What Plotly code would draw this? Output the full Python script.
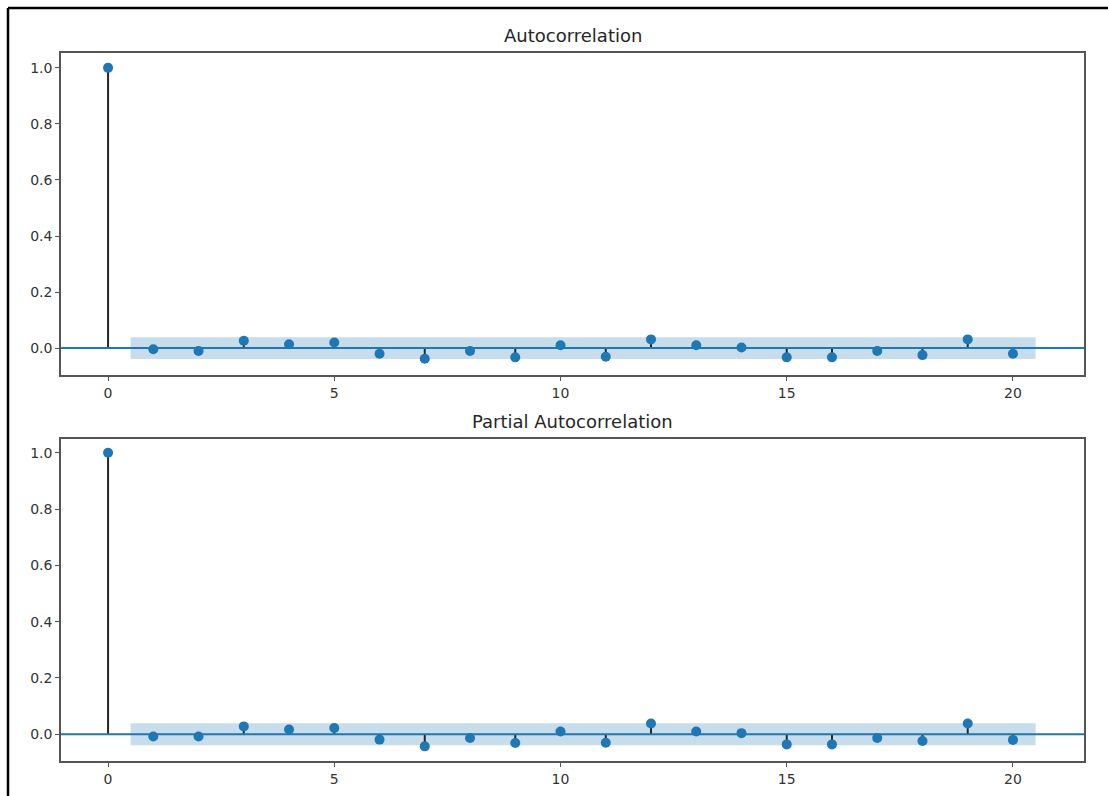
import plotly.graph_objects as go

# Lags and correlation estimates
lags = list(range(0, 21))
acf_vals = [1.0, -0.004, -0.010, 0.026, 0.014, 0.020, -0.020, -0.038, -0.010, -0.033,
            0.010, -0.031, 0.031, 0.010, 0.002, -0.033, -0.033, -0.010, -0.025, 0.031, -0.020]
pacf_vals = [1.0, -0.008, -0.008, 0.028, 0.017, 0.022, -0.019, -0.043, -0.013, -0.031,
             0.010, -0.030, 0.038, 0.010, 0.004, -0.036, -0.036, -0.013, -0.024, 0.038, -0.020]
# 95% confidence half-width per lag (lags 1..20)
conf_half = [0.039] * 20

titles = ["Autocorrelation", "Partial Autocorrelation"]
x_ticks = [0, 5, 10, 15, 20]
y_ticks = [0.0, 0.2, 0.4, 0.6, 0.8, 1.0]
y_tick_text = ["0.0", "0.2", "0.4", "0.6", "0.8", "1.0"]

W, H = 1108, 796
BLUE = "#1f77b4"
FONT = "DejaVu Sans"

# panel boxes in pixels: (left, top, right, bottom)
panels = [(61, 53, 1084, 375), (61, 439, 1084, 761)]
y_ranges = [[-0.096, 1.053], [-0.095, 1.049]]
x_range = [-1.04, 21.57]

fig = go.Figure()

for i, (vals, title) in enumerate(zip([acf_vals, pacf_vals], titles)):
    xa = "x" if i == 0 else "x2"
    ya = "y" if i == 0 else "y2"

    # confidence band over lags 1..20, widened by half a lag at each end
    band_x = [float(v) for v in lags[1:]]
    band_x[0] -= 0.5
    band_x[-1] += 0.5
    fig.add_trace(go.Scatter(x=band_x + band_x[::-1],
                             y=[c for c in conf_half] + [-c for c in conf_half[::-1]],
                             fill="toself", fillcolor="rgba(31,119,180,0.25)",
                             line=dict(width=0), mode="lines", hoverinfo="skip",
                             showlegend=False, xaxis=xa, yaxis=ya))

    # stems
    sx, sy = [], []
    for lag, v in zip(lags, vals):
        sx += [lag, lag, None]
        sy += [0, v, None]
    fig.add_trace(go.Scatter(x=sx, y=sy, mode="lines",
                             line=dict(color="#262626", width=2),
                             showlegend=False, hoverinfo="skip", xaxis=xa, yaxis=ya))

    # markers
    fig.add_trace(go.Scatter(x=lags, y=vals, mode="markers",
                             marker=dict(color=BLUE, size=10),
                             showlegend=False, xaxis=xa, yaxis=ya))

    # horizontal zero line across the whole panel
    fig.add_shape(type="line", xref=f"{xa} domain", yref=ya, x0=0, x1=1, y0=0, y1=0,
                  line=dict(color=BLUE, width=2), layer="above")

    l, t, r, b = panels[i]
    fig.add_annotation(text=title, xref="paper", yref="paper",
                       x=(l + r) / 2 / W, y=1 - (t - 18) / H,
                       xanchor="center", yanchor="middle", showarrow=False,
                       font=dict(family=FONT, size=18, color="#262626"))

axis_common = dict(showline=True, linecolor="#555555", linewidth=1.5, mirror=True,
                   showgrid=False, zeroline=False, ticks="outside", ticklen=4,
                   tickwidth=1.2, tickcolor="#555555",
                   tickfont=dict(family=FONT, size=14, color="#333333"))

layout = {}
for i in range(2):
    l, t, r, b = panels[i]
    sfx = "" if i == 0 else "2"
    layout[f"xaxis{sfx}"] = dict(domain=[l / W, r / W], range=x_range,
                                 tickvals=x_ticks, anchor=f"y{sfx}", **axis_common)
    layout[f"yaxis{sfx}"] = dict(domain=[1 - b / H, 1 - t / H], range=y_ranges[i],
                                 tickvals=y_ticks, ticktext=y_tick_text,
                                 anchor=f"x{sfx}", **axis_common)

fig.update_layout(width=W, height=H, margin=dict(l=0, r=0, t=0, b=0),
                  paper_bgcolor="white", plot_bgcolor="white", showlegend=False,
                  **layout)

# outer frame lines along the top and left edges
fig.add_shape(type="line", xref="paper", yref="paper", x0=8 / W, x1=1, y0=1 - 8 / H, y1=1 - 8 / H,
              line=dict(color="black", width=2.5))
fig.add_shape(type="line", xref="paper", yref="paper", x0=8 / W, x1=8 / W, y0=0, y1=1 - 8 / H,
              line=dict(color="black", width=2.5))

fig.write_html("out.html")
